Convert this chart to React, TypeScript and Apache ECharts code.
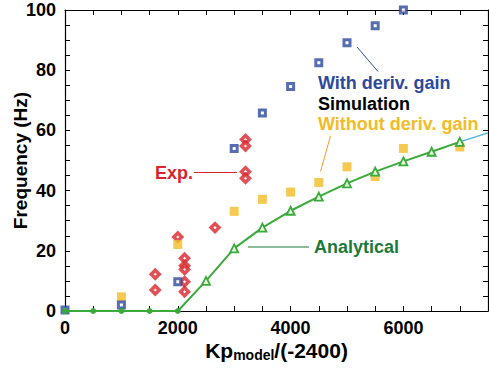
import React, { useEffect, useRef } from "react";
import * as echarts from "echarts";

// With derivative gain (simulation)
const withGainX = [0, 1000, 2000, 3000, 3500, 4000, 4500, 5000, 5500, 6000];
const withGainY = [0.3, 2, 9.7, 54, 65.8, 74.6, 82.5, 89.1, 94.8, 100];
// Without derivative gain (simulation)
const withoutGainX = [1000, 2000, 3000, 3500, 4000, 4500, 5000, 5500, 6000, 7000];
const withoutGainY = [4.7, 22.1, 33.1, 37.1, 39.5, 42.7, 47.9, 44.7, 54, 54.5];
// Experiment
const expX = [1600, 1600, 2000, 2120, 2120, 2120, 2120, 2120, 2660, 3200, 3200, 3200, 3200];
const expY = [12.2, 7, 24.6, 17.5, 15, 13.8, 9.7, 6.4, 27.7, 57, 54.8, 46.3, 44.1];
// Analytical
const anaX = [0, 500, 1000, 1500, 2000, 2500, 3000, 3500, 4000, 4500, 5000, 5500, 6000, 6500, 7000];
const anaY = [0, 0, 0, 0, 0, 10, 20.8, 27.7, 33.3, 38, 42.4, 46.3, 49.7, 52.9, 56.2];
// Extension beyond last analytical point
const extX = [7000, 7500];
const extY = [56.2, 59.2];

const xTickLabels = [0, 2000, 4000, 6000];
const yTickLabels = [0, 20, 40, 60, 80, 100];

const FONT = "'Liberation Sans', Arial, Helvetica, sans-serif";
const BLUE = "#2c4a9c";
const YELLOW = "#f3bb27";
const RED = "#d8242a";
const GREEN = "#3aaa3a";
const DKGREEN = "#1c7a38";

export default function App() {
  const ref = useRef<HTMLDivElement>(null);
  useEffect(() => {
    if (!ref.current) return;
    const chart = echarts.init(ref.current, null, { renderer: "svg" });
    const pairs = (xs: number[], ys: number[]) => xs.map((x, i) => [x, ys[i]]);
    const axisCommon = {
      type: "value" as const,
      axisLine: { show: true, onZero: false, lineStyle: { color: "#000", width: 1.2 } },
      axisTick: { show: true, inside: true, length: 5, lineStyle: { color: "#000", width: 1 } },
      splitLine: { show: false },
    };
    chart.setOption({
      animation: false,
      backgroundColor: "#fff",
      grid: { left: 65, top: 10, right: 1, bottom: 61, containLabel: false, outerBoundsMode: "none" },
      xAxis: [
        {
          ...axisCommon,
          min: 0,
          max: 7500,
          interval: 500,
          position: "bottom",
          axisLabel: {
            show: true,
            margin: 8,
            showMaxLabel: false,
            fontFamily: FONT,
            fontWeight: "bold",
            fontSize: 18,
            color: "#000",
            formatter: (v: number) => (xTickLabels.includes(v) ? String(v) : ""),
          },
          name: "{a|Kp}{b|model}{a|/(-2400)}",
          nameLocation: "middle",
          nameGap: 29,
          nameMoveOverlap: false,
          nameTextStyle: {
            rich: {
              a: { fontFamily: FONT, fontWeight: "bold", fontSize: 21, color: "#000", lineHeight: 22, verticalAlign: "top" },
              b: { fontFamily: FONT, fontWeight: "bold", fontSize: 14, color: "#000", lineHeight: 14, padding: [14, 0, 0, 0], verticalAlign: "bottom" },
            },
          },
        },
        {
          ...axisCommon,
          min: 0,
          max: 7500,
          interval: 500,
          position: "top",
          axisLabel: { show: false },
        },
      ],
      yAxis: [
        {
          ...axisCommon,
          min: 0,
          max: 100,
          interval: 5,
          position: "left",
          axisLabel: {
            show: true,
            margin: 9,
            fontFamily: FONT,
            fontWeight: "bold",
            fontSize: 18,
            color: "#000",
            formatter: (v: number) => (yTickLabels.includes(v) ? String(v) : ""),
          },
          name: "Frequency (Hz)",
          nameLocation: "middle",
          nameRotate: 90,
          nameGap: 35,
          nameMoveOverlap: false,
          nameTextStyle: { fontFamily: FONT, fontWeight: "bold", fontSize: 19, color: "#000" },
        },
        {
          ...axisCommon,
          min: 0,
          max: 100,
          interval: 5,
          position: "right",
          axisLabel: { show: false },
        },
      ],
      series: [
        {
          type: "scatter",
          name: "Exp.",
          data: pairs(expX, expY),
          symbol: "diamond",
          symbolSize: 8,
          itemStyle: { color: "#fff", borderColor: RED, borderWidth: 3.5 },
        },
        {
          type: "line",
          name: "Analytical",
          data: pairs(anaX, anaY).map((p) =>
            p[0] <= 2000
              ? { value: p, symbol: "circle", symbolSize: 4, itemStyle: { color: GREEN, borderColor: GREEN } }
              : { value: p }
          ),
          symbol: "triangle",
          symbolSize: 8,
          showAllSymbol: true,
          lineStyle: { color: GREEN, width: 2 },
          itemStyle: { color: "#e8f6e0", borderColor: GREEN, borderWidth: 1.8 },
        },
        {
          type: "line",
          name: "ext",
          data: pairs(extX, extY),
          symbol: "none",
          lineStyle: { color: "#4ab0e6", width: 1.2 },
        },
        {
          type: "scatter",
          name: "Without deriv. gain",
          data: pairs(withoutGainX, withoutGainY),
          symbol: "rect",
          symbolSize: 9,
          itemStyle: { color: YELLOW },
        },
        {
          type: "scatter",
          name: "With deriv. gain",
          data: pairs(withGainX, withGainY),
          symbol: "rect",
          symbolSize: 6,
          itemStyle: { color: "#fff", borderColor: BLUE, borderWidth: 3 },
        },
      ],
      graphic: [
        { type: "line", shape: { x1: 194, y1: 172.5, x2: 237, y2: 172.5 }, style: { stroke: RED, lineWidth: 1 } },
        { type: "line", shape: { x1: 357, y1: 47, x2: 378, y2: 71.5 }, style: { stroke: BLUE, lineWidth: 1 } },
        { type: "line", shape: { x1: 330.5, y1: 136, x2: 320.5, y2: 171.5 }, style: { stroke: "#f0a030", lineWidth: 1 } },
        { type: "line", shape: { x1: 248, y1: 247, x2: 309, y2: 247 }, style: { stroke: DKGREEN, lineWidth: 1.2 } },
        { type: "text", x: 155, y: 173, style: { text: "Exp.", fill: RED, font: `bold 18px ${FONT}`, verticalAlign: "middle" } },
        { type: "text", x: 318, y: 83, style: { text: "With deriv. gain", fill: BLUE, font: `bold 18px ${FONT}`, verticalAlign: "middle" } },
        { type: "text", x: 318, y: 104, style: { text: "Simulation", fill: "#000", font: `bold 18px ${FONT}`, verticalAlign: "middle" } },
        { type: "text", x: 318, y: 124, style: { text: "Without deriv. gain", fill: YELLOW, font: `bold 18px ${FONT}`, verticalAlign: "middle" } },
        { type: "text", x: 314, y: 247, style: { text: "Analytical", fill: DKGREEN, font: `bold 18px ${FONT}`, verticalAlign: "middle" } },
      ],
    });
    return () => chart.dispose();
  }, []);
  return <div ref={ref} style={{ width: 489, height: 372, position: "absolute", left: 0, top: 0 }} />;
}
